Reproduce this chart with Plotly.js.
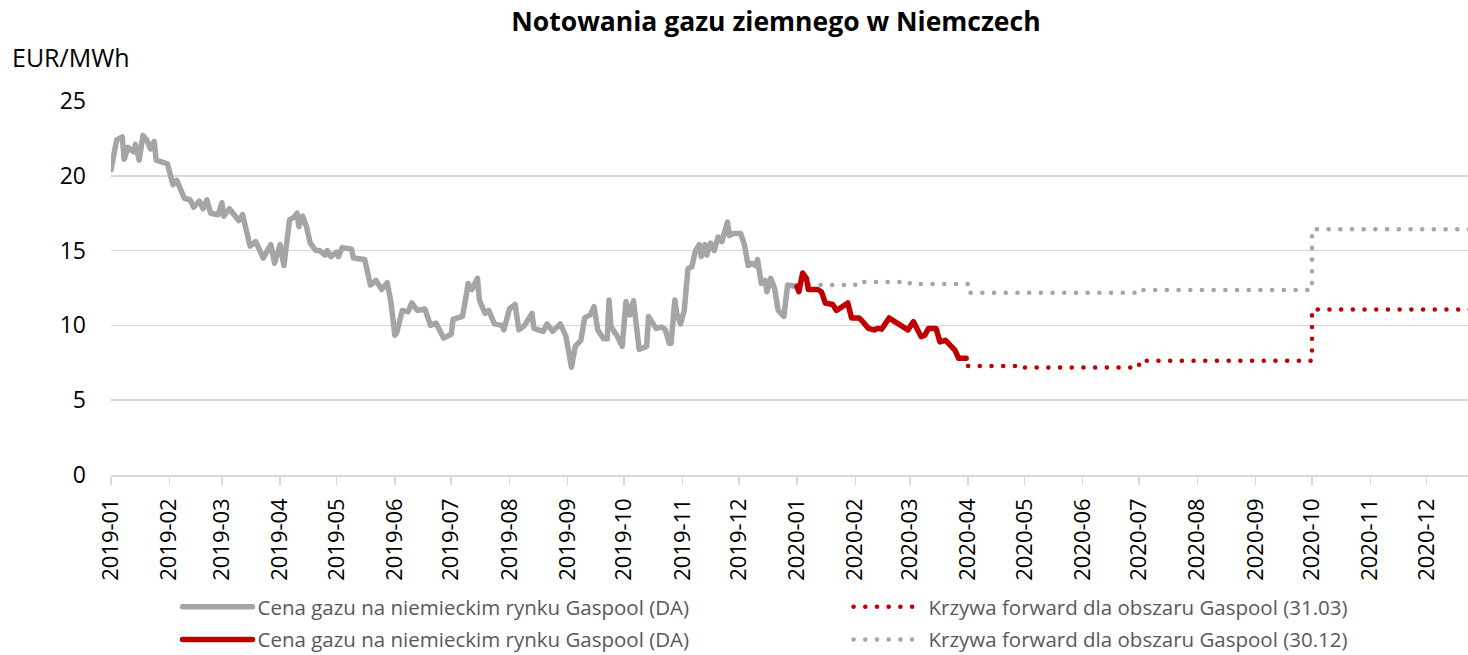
<!DOCTYPE html>
<html>
<head>
<meta charset="utf-8">
<script src="https://cdn.plot.ly/plotly-3.0.1.min.js"></script>
<style>
  html, body { margin: 0; padding: 0; background: #fff; overflow: hidden; }
  #chart { width: 1468px; height: 660px; }
  .js-line { stroke-linecap: round; stroke-linejoin: round; }
</style>
</head>
<body>
<div id="chart"></div>
<script>
// Spot price Gaspool DA, 2019 (grey)
const spot2019Dates = [
  '2019-01-01','2019-01-04','2019-01-07','2019-01-08','2019-01-10','2019-01-13','2019-01-14','2019-01-16',
  '2019-01-18','2019-01-20','2019-01-22','2019-01-24','2019-01-25','2019-01-28','2019-01-31','2019-02-03',
  '2019-02-05','2019-02-09','2019-02-12','2019-02-14','2019-02-17','2019-02-19','2019-02-21','2019-02-23',
  '2019-02-27','2019-03-01','2019-03-02','2019-03-05','2019-03-08','2019-03-10','2019-03-12','2019-03-14',
  '2019-03-16','2019-03-19','2019-03-23','2019-03-27','2019-03-29','2019-04-01','2019-04-03','2019-04-06',
  '2019-04-08','2019-04-10','2019-04-11','2019-04-13','2019-04-15','2019-04-17','2019-04-20','2019-04-22',
  '2019-04-25','2019-04-26','2019-04-28','2019-05-01','2019-05-02','2019-05-04','2019-05-09','2019-05-10',
  '2019-05-16','2019-05-19','2019-05-22','2019-05-25','2019-05-28','2019-05-30','2019-06-01','2019-06-02',
  '2019-06-05','2019-06-08','2019-06-10','2019-06-13','2019-06-17','2019-06-20','2019-06-23','2019-06-27',
  '2019-07-01','2019-07-02','2019-07-07','2019-07-09','2019-07-10','2019-07-12','2019-07-15','2019-07-16',
  '2019-07-19','2019-07-21','2019-07-24','2019-07-28','2019-07-29','2019-08-01','2019-08-04','2019-08-06',
  '2019-08-09','2019-08-13','2019-08-14','2019-08-19','2019-08-21','2019-08-24','2019-08-28','2019-08-31',
  '2019-09-03','2019-09-05','2019-09-08','2019-09-10','2019-09-13','2019-09-15','2019-09-17','2019-09-20',
  '2019-09-22','2019-09-23','2019-09-24','2019-09-27','2019-09-30','2019-10-02','2019-10-04','2019-10-06',
  '2019-10-09','2019-10-13','2019-10-14','2019-10-18','2019-10-21','2019-10-23','2019-10-25','2019-10-26',
  '2019-10-28','2019-10-29','2019-10-31','2019-11-02','2019-11-04','2019-11-06','2019-11-08','2019-11-10',
  '2019-11-11','2019-11-13','2019-11-14','2019-11-16','2019-11-18','2019-11-20','2019-11-22','2019-11-25',
  '2019-11-26','2019-11-28','2019-12-02','2019-12-04','2019-12-06','2019-12-08','2019-12-10','2019-12-11',
  '2019-12-13','2019-12-15','2019-12-16','2019-12-18','2019-12-20','2019-12-22','2019-12-25','2019-12-27',
  '2019-12-31','2020-01-01'
];
const spot2019Values = [
  20.4,22.4,22.6,21.1,21.9,21.6,22.1,21.05,
  22.7,22.4,21.8,22.3,21.05,20.9,20.8,19.4,
  19.7,18.5,18.4,17.9,18.3,17.8,18.4,17.5,
  17.4,18.2,17.3,17.8,17.3,17.0,17.4,16.2,
  15.3,15.6,14.5,15.4,14.15,15.4,14.0,17.05,
  17.2,17.5,16.6,17.3,16.6,15.5,15.0,15.0,
  14.7,15.0,14.6,14.9,14.6,15.2,15.1,14.5,
  14.4,12.7,13.0,12.4,12.85,11.5,9.35,9.5,
  11.0,10.9,11.5,11.0,11.1,10.0,10.15,9.15,
  9.4,10.4,10.6,12.0,12.8,12.4,13.15,11.7,
  10.8,11.0,10.1,10.0,9.7,11.1,11.4,9.7,
  10.0,10.8,9.8,9.6,10.1,9.6,10.1,9.3,
  7.2,8.6,9.0,10.5,10.7,11.25,9.7,9.1,
  9.1,11.7,9.9,9.35,8.6,11.6,10.7,11.65,
  8.4,8.6,10.6,9.8,9.9,9.7,8.8,8.8,
  11.7,10.8,10.1,11.0,13.8,13.9,15.0,15.4,
  14.6,15.4,14.7,15.5,15.0,15.9,15.6,16.9,
  16.0,16.15,16.15,15.4,14.0,14.15,14.0,14.4,
  12.8,13.0,12.25,13.15,12.5,11.0,10.6,12.7,
  12.6,12.6
];

// Spot price Gaspool DA, 2020 Q1 (red)
const spot2020Dates = [
  '2020-01-01','2020-01-02','2020-01-04','2020-01-06','2020-01-07','2020-01-12','2020-01-14','2020-01-16',
  '2020-01-20','2020-01-22','2020-01-25','2020-01-28','2020-01-30','2020-02-03','2020-02-05','2020-02-08',
  '2020-02-11','2020-02-13','2020-02-15','2020-02-19','2020-02-22','2020-02-25','2020-02-29','2020-03-03',
  '2020-03-07','2020-03-09','2020-03-11','2020-03-15','2020-03-17','2020-03-20','2020-03-23','2020-03-25',
  '2020-03-27','2020-03-31'
];
const spot2020Values = [
  12.6,12.25,13.5,13.15,12.4,12.4,12.25,11.5,
  11.4,11.0,11.25,11.5,10.5,10.5,10.25,9.8,
  9.7,9.8,9.75,10.5,10.25,10.0,9.7,10.25,
  9.25,9.35,9.8,9.8,8.9,9.0,8.6,8.35,
  7.8,7.8
];

// Forward curve Gaspool (31.03) - red dotted
const fwd3103Dates = ['2020-04-01','2020-05-01','2020-06-01','2020-07-01','2020-08-01','2020-09-01','2020-10-01','2020-11-01','2020-12-01','2020-12-31'];
const fwd3103Values = [7.29,7.18,7.18,7.64,7.64,7.64,11.07,11.07,11.07,11.07];

// Forward curve Gaspool (30.12) - grey dotted
const fwd3012Dates = ['2020-01-01','2020-02-01','2020-03-01','2020-04-01','2020-05-01','2020-06-01','2020-07-01','2020-08-01','2020-09-01','2020-10-01','2020-11-01','2020-12-01','2020-12-31'];
const fwd3012Values = [12.7,12.9,12.77,12.19,12.19,12.19,12.37,12.37,12.37,16.42,16.42,16.42,16.42];

const nameSpot = 'Cena gazu na niemieckim rynku Gaspool (DA)';
const nameFwd3103 = 'Krzywa forward dla obszaru Gaspool (31.03)';
const nameFwd3012 = 'Krzywa forward dla obszaru Gaspool (30.12)';

const GREY = '#A5A5A5';
const RED = '#C00000';
const DOTS = '0.1px,11.6px';

const traces = [
  { x: spot2019Dates, y: spot2019Values, name: nameSpot, type: 'scatter', mode: 'lines',
    line: { color: GREY, width: 5.5 }, legend: 'legend', legendgroup: 'a', legendrank: 1 },
  { x: fwd3012Dates, y: fwd3012Values, name: nameFwd3012, type: 'scatter', mode: 'lines',
    line: { color: GREY, width: 4.5, dash: DOTS, shape: 'hv' }, legend: 'legend2', legendgroup: 'd', legendrank: 2 },
  { x: fwd3103Dates, y: fwd3103Values, name: nameFwd3103, type: 'scatter', mode: 'lines',
    line: { color: RED, width: 4.5, dash: DOTS, shape: 'hv' }, legend: 'legend2', legendgroup: 'c', legendrank: 1 },
  { x: spot2020Dates, y: spot2020Values, name: nameSpot, type: 'scatter', mode: 'lines',
    line: { color: RED, width: 5.5 }, legend: 'legend', legendgroup: 'b', legendrank: 2 }
];

const FONT = 'Open Sans, Liberation Sans, sans-serif';
const legendFont = { family: FONT, size: 20.5, color: '#595959' };

const layout = {
  width: 1468, height: 660,
  margin: { l: 111, r: 0, t: 101, b: 185 },
  paper_bgcolor: '#ffffff', plot_bgcolor: '#ffffff',
  font: { family: FONT, color: '#000000' },
  title: { text: '<b>Notowania gazu ziemnego w Niemczech</b>', font: { family: FONT, size: 26.5, color: '#000000' },
           x: 0.49, xref: 'paper', xanchor: 'center', y: 0.9667, yref: 'container', yanchor: 'middle' },
  xaxis: {
    type: 'date', range: ['2019-01-01', '2020-12-23'],
    tick0: '2019-01-01', dtick: 'M1', tickformat: '%Y-%m', tickangle: -90,
    showgrid: false, showline: true, linecolor: '#D9D9D9', linewidth: 1.5,
    ticks: 'outside', ticklen: 8, tickwidth: 1.5, tickcolor: '#D9D9D9',
    tickfont: { family: FONT, size: 22, color: '#000000' }, ticklabelstandoff: 5,
    zeroline: false, fixedrange: true
  },
  yaxis: {
    range: [0, 25], dtick: 5, tick0: 0,
    showgrid: true, gridcolor: '#D9D9D9', gridwidth: 1.5,
    showline: false, zeroline: false, ticks: '',
    tickfont: { family: FONT, size: 23, color: '#000000' }, ticklabelstandoff: 24,
    fixedrange: true
  },
  legend: {
    x: 0.049, xref: 'paper', xanchor: 'left', y: 0, yref: 'container', yanchor: 'bottom',
    orientation: 'v', traceorder: 'grouped', tracegroupgap: 3,
    font: legendFont, bgcolor: 'rgba(0,0,0,0)', itemwidth: 70
  },
  legend2: {
    x: 0.5435, xref: 'paper', xanchor: 'left', y: 0, yref: 'container', yanchor: 'bottom',
    orientation: 'v', traceorder: 'grouped', tracegroupgap: 3,
    font: legendFont, bgcolor: 'rgba(0,0,0,0)', itemwidth: 70
  },
  annotations: [
    { text: 'EUR/MWh', xref: 'paper', yref: 'paper', x: -0.0744, y: 1.1176,
      xanchor: 'left', yanchor: 'middle', showarrow: false,
      font: { family: FONT, size: 25, color: '#000000' } }
  ],
  showlegend: true
};

Plotly.newPlot('chart', traces, layout, { displayModeBar: false, staticPlot: true });
</script>
</body>
</html>
